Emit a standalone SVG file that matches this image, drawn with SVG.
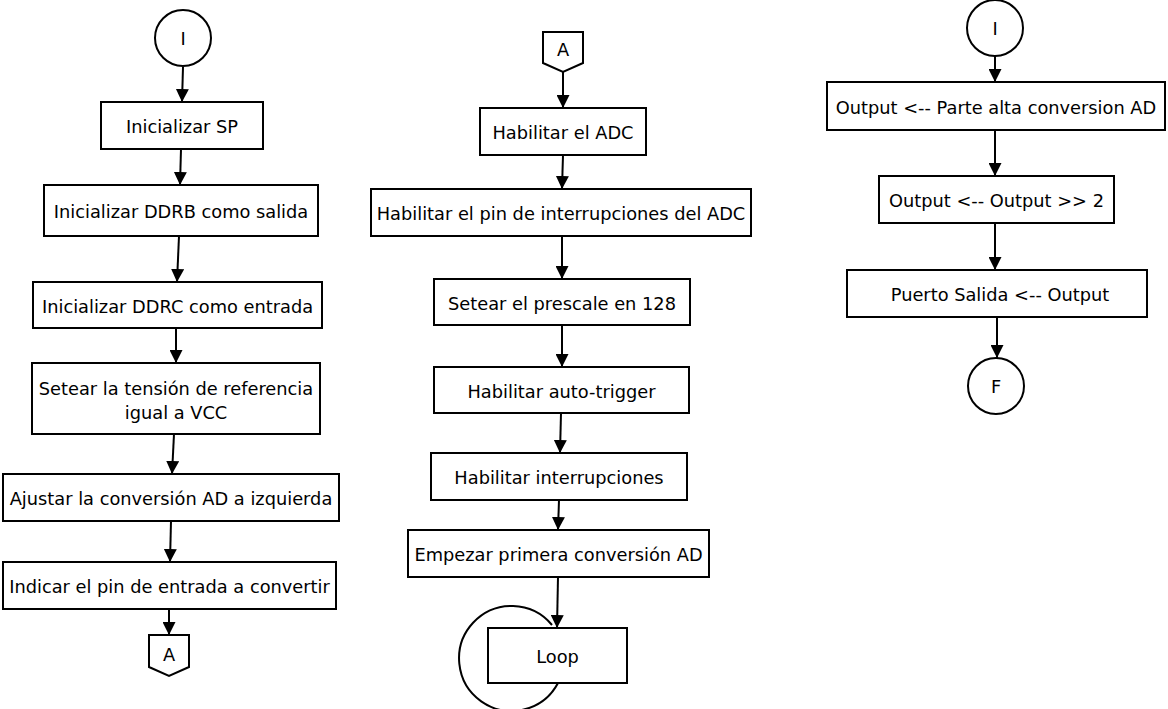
<svg xmlns="http://www.w3.org/2000/svg" width="1168" height="709" viewBox="0 0 1168 709">
<style>
.n{fill:#fff;stroke:#000;stroke-width:2}
.t{font-family:"DejaVu Sans",sans-serif;font-size:17.8px;fill:#000;text-anchor:middle;dominant-baseline:central}
.c{fill:none;stroke:#000;stroke-width:2}
</style>
<defs>
<marker id="ah" markerUnits="userSpaceOnUse" markerWidth="13" markerHeight="13" refX="13" refY="6.5" orient="auto">
<path d="M0,0 L13,6.5 L0,13 Z" fill="#000"/>
</marker>
</defs>
<rect width="1168" height="709" fill="#fff"/>
<g id="connectors">
<line class="c" x1="183" y1="67" x2="182" y2="102" marker-end="url(#ah)"/>
<line class="c" x1="181" y1="149" x2="180" y2="185" marker-end="url(#ah)"/>
<line class="c" x1="179" y1="236" x2="177" y2="282" marker-end="url(#ah)"/>
<line class="c" x1="176" y1="328" x2="176" y2="363" marker-end="url(#ah)"/>
<line class="c" x1="174" y1="434" x2="172" y2="474" marker-end="url(#ah)"/>
<line class="c" x1="171" y1="521" x2="170" y2="562" marker-end="url(#ah)"/>
<line class="c" x1="169" y1="609" x2="169" y2="635" marker-end="url(#ah)"/>
<line class="c" x1="563" y1="72" x2="563" y2="108" marker-end="url(#ah)"/>
<line class="c" x1="563" y1="155" x2="562" y2="189" marker-end="url(#ah)"/>
<line class="c" x1="562" y1="236" x2="562" y2="279" marker-end="url(#ah)"/>
<line class="c" x1="562" y1="325" x2="562" y2="367" marker-end="url(#ah)"/>
<line class="c" x1="561" y1="413" x2="560" y2="453" marker-end="url(#ah)"/>
<line class="c" x1="559" y1="500" x2="558" y2="530" marker-end="url(#ah)"/>
<line class="c" x1="558" y1="577" x2="557" y2="628" marker-end="url(#ah)"/>
<path class="c" d="M558,683 A52.5,52.5 0 1 1 552,625"/>
<line class="c" x1="995" y1="56" x2="995" y2="82" marker-end="url(#ah)"/>
<line class="c" x1="995" y1="130" x2="995" y2="176" marker-end="url(#ah)"/>
<line class="c" x1="995" y1="223" x2="995" y2="270" marker-end="url(#ah)"/>
<line class="c" x1="997" y1="317" x2="997" y2="358" marker-end="url(#ah)"/>
</g>
<g id="start1"><circle class="n" cx="183" cy="38" r="28"/><text class="t" x="183" y="38">I</text></g>
<g id="n1"><rect class="n" x="101" y="102" width="162" height="47"/><text class="t" x="182" y="126">Inicializar SP</text></g>
<g id="n2"><rect class="n" x="44" y="185" width="274" height="51"/><text class="t" x="181" y="211">Inicializar DDRB como salida</text></g>
<g id="n3"><rect class="n" x="33" y="282" width="289" height="46"/><text class="t" x="177.5" y="306">Inicializar DDRC como entrada</text></g>
<g id="n4"><rect class="n" x="32" y="363" width="288" height="71"/><text class="t" x="176" y="388">Setear la tensión de referencia</text><text class="t" x="176" y="412">igual a VCC</text></g>
<g id="n5"><rect class="n" x="3" y="474" width="336" height="47"/><text class="t" x="171" y="498">Ajustar la conversión AD a izquierda</text></g>
<g id="n6"><rect class="n" x="3" y="562" width="333" height="47"/><text class="t" x="169.5" y="586">Indicar el pin de entrada a convertir</text></g>
<g id="offA1"><path class="n" d="M149,635 H189 V667 L169,676 L149,667 Z"/><text class="t" x="169" y="654">A</text></g>
<g id="offA2"><path class="n" d="M543,32 H583 V63 L563,72 L543,63 Z"/><text class="t" x="563" y="49">A</text></g>
<g id="m1"><rect class="n" x="480" y="108" width="166" height="47"/><text class="t" x="563" y="132">Habilitar el ADC</text></g>
<g id="m2"><rect class="n" x="371" y="189" width="380" height="47"/><text class="t" x="561" y="213">Habilitar el pin de interrupciones del ADC</text></g>
<g id="m3"><rect class="n" x="434" y="279" width="256" height="46"/><text class="t" x="562" y="303">Setear el prescale en 128</text></g>
<g id="m4"><rect class="n" x="434" y="367" width="255" height="46"/><text class="t" x="561.5" y="391">Habilitar auto-trigger</text></g>
<g id="m5"><rect class="n" x="431" y="453" width="256" height="47"/><text class="t" x="559" y="477">Habilitar interrupciones</text></g>
<g id="m6"><rect class="n" x="408" y="530" width="301" height="47"/><text class="t" x="558.5" y="554">Empezar primera conversión AD</text></g>
<g id="loop"><rect class="n" x="488" y="628" width="139" height="55"/><text class="t" x="557.5" y="656">Loop</text></g>
<g id="start2"><circle class="n" cx="995" cy="28" r="28"/><text class="t" x="995" y="28">I</text></g>
<g id="r1"><rect class="n" x="827" y="82" width="338" height="48"/><text class="t" x="996" y="107">Output &lt;-- Parte alta conversion AD</text></g>
<g id="r2"><rect class="n" x="879" y="176" width="235" height="47"/><text class="t" x="996.5" y="200">Output &lt;-- Output &gt;&gt; 2</text></g>
<g id="r3"><rect class="n" x="847" y="270" width="300" height="47"/><text class="t" x="1000" y="294">Puerto Salida &lt;-- Output</text></g>
<g id="end"><circle class="n" cx="996" cy="386" r="28"/><text class="t" x="996" y="386">F</text></g>
</svg>
